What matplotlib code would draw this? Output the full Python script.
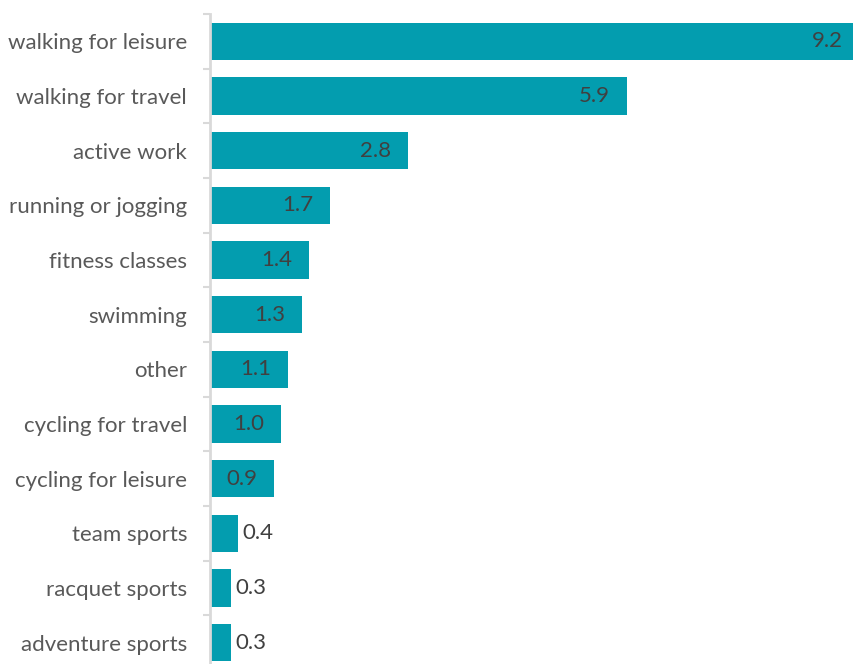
import matplotlib.pyplot as plt
import numpy as np

# hours per week by activity type
activities = ['walking for leisure', 'walking for travel', 'active work',
              'running or jogging', 'fitness classes', 'swimming', 'other',
              'cycling for travel', 'cycling for leisure', 'team sports',
              'racquet sports', 'adventure sports']
values = [9.2, 5.9, 2.8, 1.7, 1.4, 1.3, 1.1, 1.0, 0.9, 0.4, 0.3, 0.3]

plt.rcParams['font.family'] = ['Lato', 'DejaVu Sans']

fig = plt.figure(figsize=(8.54, 6.64), dpi=100)
# right end of the longest bar runs slightly past the figure edge
ax = fig.add_axes([210/854, -6/664, 650/854, 656/664])

y = np.arange(len(values))
ax.barh(y, values, height=0.68, color='#039DAF')

ax.set_xlim(0, 9.2)
ax.set_ylim(len(values) - 0.5, -0.5)

for yi, v in zip(y, values):
    if v >= 0.9:
        ax.annotate(f'{v:.1f}', (v, yi), xytext=(-12, 0), textcoords='offset points',
                    ha='right', va='center', fontsize=16, color='#404040')
    else:
        ax.annotate(f'{v:.1f}', (v, yi), xytext=(3, 0), textcoords='offset points',
                    ha='left', va='center', fontsize=16, color='#404040')

ax.set_yticks(y)
ax.set_yticklabels(activities, fontsize=16, color='#595959')
ax.tick_params(axis='y', which='major', length=0, pad=16.5)
ax.set_yticks(np.arange(-0.5, len(values), 1), minor=True)
ax.tick_params(axis='y', which='minor', length=5, width=1.5, color='#D9D9D9')

ax.set_xticks([])
for s in ['top', 'right', 'bottom']:
    ax.spines[s].set_visible(False)
ax.spines['left'].set_color('#D9D9D9')
ax.spines['left'].set_linewidth(2)

plt.savefig('out.png', dpi=100)
